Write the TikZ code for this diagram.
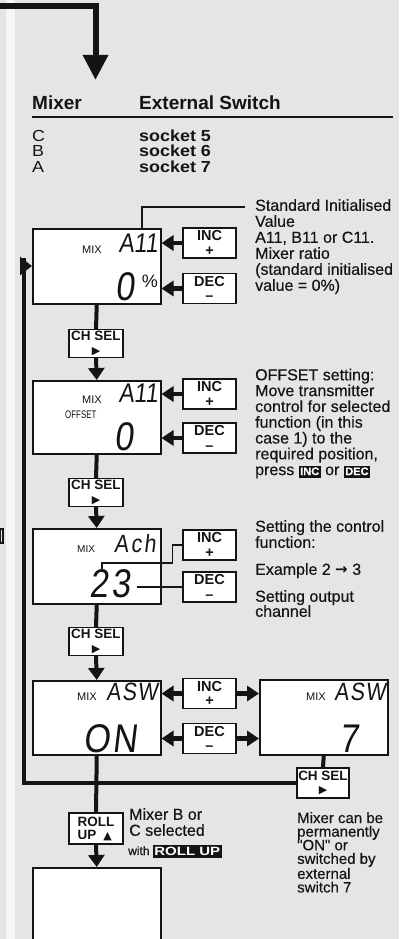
\documentclass[tikz,border=0pt]{standalone}
\usepackage{fontspec}
\setmainfont{Liberation Sans}
\newfontfamily\descfont[FakeBold=0.35]{Liberation Sans}
\newfontfamily\lcdfont[FakeStretch=0.85,FakeSlant=0.12]{Liberation Sans}
\newfontfamily\lcdsmall{Liberation Sans}
\newfontfamily\lcdnarrow[FakeStretch=0.72]{Liberation Sans}
\newfontfamily\widefont[FakeStretch=1.12]{Liberation Sans}
\newfontfamily\widebold[FakeStretch=1.25]{Liberation Sans}
\newfontfamily\symfont{DejaVu Sans}
\usetikzlibrary{arrows.meta}
\definecolor{bg}{HTML}{E5E5E5}
\definecolor{stripe}{HTML}{F6F6F6}
\definecolor{ink}{HTML}{141414}
\newcommand{\invlabel}[1]{{\setlength{\fboxsep}{1.5pt}\colorbox{ink}{\rule[-1pt]{0pt}{9pt}\textcolor{white}{\fontsize{11}{11}\selectfont\bfseries #1}}}}
\newcommand{\rollbox}{{\setlength{\fboxsep}{1.5pt}\colorbox{ink}{\rule[-1.5pt]{0pt}{10pt}\textcolor{white}{\widebold\fontsize{12}{12}\selectfont\bfseries ROLL UP}}}}

\tikzset{
  lcdbox/.style={draw=ink, fill=white, line width=1.5pt, anchor=north west, inner sep=0, minimum width=128pt},
  btn/.style={draw=ink, fill=white, line width=1.2pt, inner sep=0, minimum width=53pt, minimum height=30pt, align=center, font=\fontsize{14.5}{14.5}\selectfont\bfseries},
  selbtn/.style={btn, minimum width=54pt, minimum height=28pt, font=\fontsize{13.5}{13.5}\selectfont\bfseries},
  flowline/.style={draw=ink, line width=4pt},
  flowarrow/.style={flowline, -{Triangle[length=12pt,width=16pt]}},
  sidearrow/.style={draw=ink, line width=4.5pt, -{Triangle[length=12pt,width=15pt]}},
  pointer/.style={draw=ink, line width=1.2pt},
  desc/.style={anchor=north west, align=left, inner sep=0, font=\descfont\fontsize{16}{16}\selectfont},
  lcdbig/.style={anchor=base east, inner sep=0, font=\lcdfont\fontsize{40}{40}\selectfont},
  lcdmid/.style={anchor=base east, inner sep=0, font=\lcdfont\fontsize{27}{27}\selectfont},
  lcdmix/.style={anchor=base west, inner sep=0, font=\lcdsmall\fontsize{11}{11}\selectfont},
  tabtext/.style={anchor=base west, inner sep=0},
}

\begin{document}
\begin{tikzpicture}[x=1pt,y=-1pt, every node/.style={text=ink}]
\fill[bg] (0,0) rectangle (399,939);
\useasboundingbox (0,0) rectangle (399,939);
\fill[stripe] (6,0) rectangle (15,939);
\draw[ink, line width=1.5pt] (0,529) rectangle (3,543);

% top arrow
\coordinate (tstart) at (0,6.3);
\coordinate (ttip) at (95.5,80);
\draw[ink, line width=6pt, -{Triangle[length=25pt,width=24pt]}] (tstart) -| (ttip);

% table
\node[tabtext, font=\fontsize{19}{19}\selectfont\bfseries] (hmix) at (32,110) {Mixer};
\node[tabtext, font=\fontsize{19}{19}\selectfont\bfseries] (hext) at (139,110) {External Switch};
\coordinate (ulA) at (32,117);
\coordinate (ulB) at (393,117);
\draw[ink, line width=1.6pt] (ulA) -- (ulB);
\node[tabtext, font=\widefont\fontsize{16}{16}\selectfont] (mC) at (32,142) {C};
\node[tabtext, font=\widefont\fontsize{16}{16}\selectfont] (mB) at (32,157) {B};
\node[tabtext, font=\widefont\fontsize{16}{16}\selectfont] (mA) at (32,172) {A};
\node[tabtext, font=\widefont\fontsize{16}{16}\selectfont\bfseries] (s5) at (139,142) {socket 5};
\node[tabtext, font=\widefont\fontsize{16}{16}\selectfont\bfseries] (s6) at (139,157) {socket 6};
\node[tabtext, font=\widefont\fontsize{16}{16}\selectfont\bfseries] (s7) at (139,172) {socket 7};

% LCD boxes
\node[lcdbox, minimum height=75pt] (b1) at (32,228) {};
\node[lcdbox, minimum height=73pt] (b2) at (32,380) {};
\node[lcdbox, minimum height=75pt] (b3) at (32,528) {};
\node[lcdbox, minimum height=74pt] (b4) at (32,680) {};
\node[lcdbox, minimum height=75pt] (b5) at (259,679) {};
\node[lcdbox, minimum height=90pt] (b6) at (32,867) {};

% LCD contents
\node[lcdmix] (x1) at (82,253) {MIX};
\node[lcdmid] (v1) at (158,252) {A11};
\node[lcdbig] (n1) at (135,300) {0};
\node[anchor=base east, inner sep=0, font=\lcdsmall\fontsize{18}{18}\selectfont] (p1) at (158,287) {\%};

\node[lcdmix] (x2) at (82,403) {MIX};
\node[anchor=base west, inner sep=0, font=\lcdnarrow\fontsize{11}{11}\selectfont] (o2) at (65,418) {OFFSET};
\node[lcdmid] (v2) at (158,402) {A11};
\node[lcdbig] (n2) at (134,450) {0};

\node[lcdmix, font=\lcdsmall\fontsize{10}{10}\selectfont] (x3) at (77,552) {MIX};
\node[lcdmid, font=\lcdfont\fontsize{25}{25}\selectfont] (v3) at (156,552) {A\kern2.5pt c\kern2.5pt h};
\node[lcdbig] (n3) at (131,597) {2\kern3pt 3};

\node[lcdmix] (x4) at (77,700) {MIX};
\node[lcdmid, font=\lcdfont\fontsize{25}{25}\selectfont] (v4) at (158,700) {A\kern1.5pt S\kern1.5pt W};
\node[lcdbig] (n4) at (137,752) {O\kern2pt N};

\node[lcdmix] (x5) at (306,700) {MIX};
\node[lcdmid, font=\lcdfont\fontsize{25}{25}\selectfont] (v5) at (386,700) {A\kern1.5pt S\kern1.5pt W};
\node[lcdbig] (n5) at (359,752) {7};

% buttons
\node[btn] (i1) at (209.5,243) {INC\\+};
\node[btn] (d1) at (209.5,288.5) {DEC\\–};
\node[btn] (i2) at (209.5,394) {INC\\+};
\node[btn] (d2) at (209.5,438) {DEC\\–};
\node[btn] (i3) at (209.5,545) {INC\\+};
\node[btn] (d3) at (209.5,587) {DEC\\–};
\node[btn] (i4) at (209.5,693.5) {INC\\+};
\node[btn] (d4) at (209.5,738.5) {DEC\\–};

\node[selbtn] (c1) at (96,343.5) {CH SEL\\{\symfont\fontsize{11}{11}\selectfont ▶}};
\node[selbtn] (c2) at (96,492.5) {CH SEL\\{\symfont\fontsize{11}{11}\selectfont ▶}};
\node[selbtn] (c3) at (96,641.5) {CH SEL\\{\symfont\fontsize{11}{11}\selectfont ▶}};
\node[selbtn, minimum width=52pt, minimum height=30pt] (c4) at (323,783) {CH SEL\\{\symfont\fontsize{11}{11}\selectfont ▶}};
\node[selbtn, minimum height=31pt, align=left, font=\fontsize{13.5}{13}\selectfont\bfseries] (r1) at (96,828.5) {ROLL\\UP\hspace{7pt}{\symfont\fontsize{11}{11}\selectfont ▲}};

% side arrows into LCDs
\draw[sidearrow] (i1.west) -- (b1.east |- i1.west);
\draw[sidearrow] (d1.west) -- (b1.east |- d1.west);
\draw[sidearrow] (i2.west) -- (b2.east |- i2.west);
\draw[sidearrow] (d2.west) -- (b2.east |- d2.west);
\draw[sidearrow] (i4.west) -- (b4.east |- i4.west);
\draw[sidearrow] (d4.west) -- (b4.east |- d4.west);
\draw[sidearrow] (i4.east) -- (b5.west |- i4.east);
\draw[sidearrow] (d4.east) -- (b5.west |- d4.east);

% pointer lines
\coordinate (ptop) at (142,228);
\coordinate (pend) at (245,207);
\draw[pointer] (ptop) |- (pend);
\coordinate (p23) at (102,569);
\draw[pointer] (i3.west) -- ++(-10,0) -- ++(0,18) -| (p23);
\draw[pointer] (d3.west) -- ++(-45,0);

% main flow
\draw[flowline] (b1.south) -- (c1.north);
\draw[flowarrow] (c1.south) -- (b2.north);
\draw[flowline] (b2.south) -- (c2.north);
\draw[flowarrow] (c2.south) -- (b3.north);
\draw[flowline] (b3.south) -- (c3.north);
\draw[flowarrow] (c3.south) -- (b4.north);
\draw[flowline] (b4.south) -- (r1.north);
\draw[flowarrow] (r1.south) -- (b6.north);
\draw[flowline] (b5.south) -- (c4.north);

% loop back
\coordinate (ltop) at (23.5,258);
\coordinate (lflag) at (20,266);
\draw[flowline] (c4.west) -| (ltop);
\draw[flowline, -{Triangle[length=12pt,width=18pt]}] (lflag) -- (b1.west |- lflag);

% descriptions
\node[desc] (t1) at (255,199) {Standard Initialised\\Value\\A11, B11 or C11.\\Mixer ratio\\(standard initialised\\value = 0\%)};
\node[desc, font=\descfont\fontsize{16}{15.8}\selectfont] (t2) at (255,368.5) {OFFSET setting:\\Move transmitter\\control for selected\\function (in this\\case 1) to the\\required position,\\press \invlabel{INC} or \invlabel{DEC}};
\node[desc] (t3) at (255,520) {Setting the control\\function:};
\node[desc] (t4) at (255,563) {Example 2 {\symfont\bfseries\fontsize{15}{15}\selectfont →} 3};
\node[desc, font=\descfont\fontsize{16}{15}\selectfont] (t5) at (255,590) {Setting output\\channel};
\node[desc] (t6) at (129,808) {Mixer B or\\C selected};
\node[tabtext, font=\descfont\fontsize{12}{12}\selectfont] (t7) at (128,855) {with \rollbox};
\node[desc, font=\descfont\fontsize{15}{13.6}\selectfont] (t8) at (297,812) {Mixer can be\\permanently\\"ON" or\\switched by\\external\\switch 7};
\end{tikzpicture}
\end{document}
